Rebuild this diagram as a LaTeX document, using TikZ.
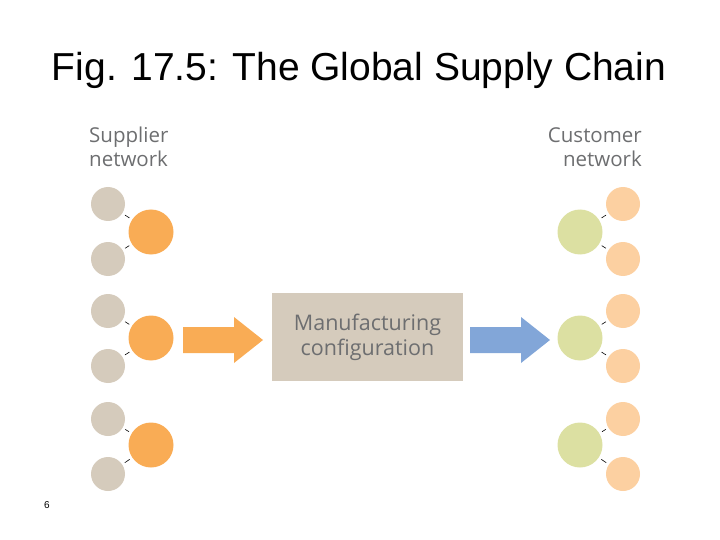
\documentclass[tikz,border=0pt]{standalone}
\usepackage{fontspec}
\setmainfont{Liberation Sans}
\newfontfamily\lblfont{Open Sans}
\definecolor{greyc}{HTML}{D5CBBC}
\definecolor{orangec}{HTML}{F9AC55}
\definecolor{greenc}{HTML}{DCE0A2}
\definecolor{peachc}{HTML}{FCD0A1}
\definecolor{bluea}{HTML}{82A6D8}
\definecolor{boxc}{HTML}{D5CBBC}
\definecolor{lblc}{HTML}{6D6E70}
\begin{document}
\begin{tikzpicture}[x=1pt,y=-1pt,
 small/.style={circle,minimum size=34pt,inner sep=0pt},
 big/.style={circle,minimum size=45pt,inner sep=0pt},
 link/.style={black,line width=0.6pt,shorten <=3pt,shorten >=3pt},
 lbl/.style={font=\lblfont\fontsize{20.5}{24}\selectfont,text=lblc}]
\useasboundingbox (0,0) rectangle (720,540);
\node at (359,70) {\fontsize{39}{44}\selectfont Fig. 17.5: The Global Supply Chain};
\node[lbl,align=left,anchor=north west,inner sep=0pt] (sl) at (89,127) {Supplier\\network};
\node[lbl,align=right,anchor=north east,inner sep=0pt] (cl) at (642,127) {Customer\\network};
\node[font=\fontsize{10}{12}\selectfont] (pg) at (47,505) {6};
\foreach \i/\y in {1/204,2/259,3/311,4/366,5/419,6/474}{
  \node[small,fill=greyc] (g\i) at (108,\y) {};
  \node[small,fill=peachc] (p\i) at (623,\y) {};
}
\foreach \i/\y in {1/232,2/338,3/445}{
  \node[big,fill=orangec] (o\i) at (151,\y) {};
  \node[big,fill=greenc] (c\i) at (580,\y) {};
}
\foreach \a/\b/\c in {1/1/2,2/3/4,3/5/6}{
  \draw[link] (g\b) -- (o\a); \draw[link] (g\c) -- (o\a);
  \draw[link] (c\a) -- (p\b); \draw[link] (c\a) -- (p\c);
}
\node[fill=boxc,minimum width=191pt,minimum height=88pt,align=center,
  font=\lblfont\fontsize{21.5}{25}\selectfont,text=lblc] (box) at (367.5,337) {Manufacturing\\configuration};
\fill[orangec] (183,327) -- (234,327) -- (234,317) -- (263,340) -- (234,363) -- (234,353) -- (183,353) -- cycle;
\fill[bluea] (470,327) -- (521,327) -- (521,317) -- (550,340) -- (521,363) -- (521,353) -- (470,353) -- cycle;
\end{tikzpicture}
\end{document}
